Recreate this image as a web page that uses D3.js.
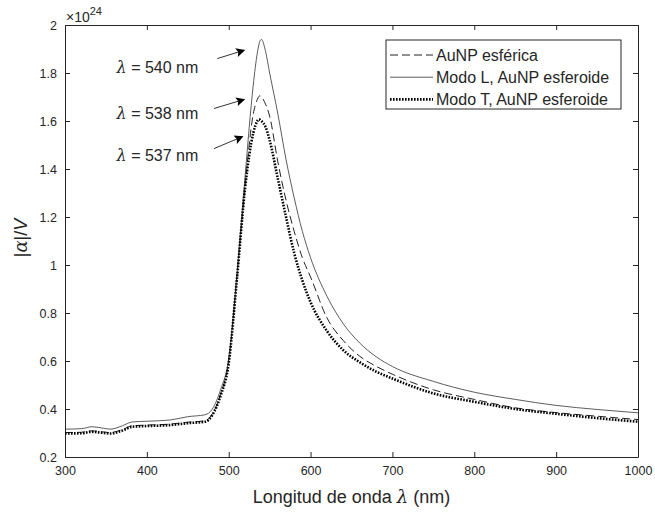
<!DOCTYPE html>
<html>
<head>
<meta charset="utf-8">
<title>Polarizabilidad AuNP</title>
<style>
body { margin: 0; background: #fff; }
text { font-family: "Liberation Sans", Arial, sans-serif; fill: #262626; }
</style>
<script src="https://d3js.org/d3.v7.min.js"></script>
</head>
<body>
<div id="chart"></div>
<script>
// wavelengths (nm) shared by the three curves
var lambda = [300, 320, 333, 345, 355, 370, 382, 400, 428, 450, 471, 480, 490, 500, 510, 520, 530, 535, 537, 538, 540, 545, 550, 560, 570, 580, 590, 600, 620, 640, 660, 680, 700, 750, 800, 850, 900, 950, 1000];

// |alpha|/V in units of 1e24
var esferica = [0.302, 0.303, 0.309, 0.305, 0.302, 0.314, 0.330, 0.333, 0.337, 0.345, 0.351, 0.38, 0.46, 0.60, 0.95, 1.33, 1.63, 1.69, 1.703, 1.705, 1.70, 1.67, 1.62, 1.43, 1.27, 1.14, 1.03, 0.95, 0.78, 0.685, 0.62, 0.578, 0.545, 0.48, 0.44, 0.405, 0.385, 0.37, 0.356];
var modoL = [0.316, 0.318, 0.326, 0.321, 0.316, 0.330, 0.346, 0.349, 0.354, 0.368, 0.376, 0.40, 0.48, 0.61, 0.96, 1.37, 1.75, 1.885, 1.92, 1.932, 1.94, 1.89, 1.80, 1.63, 1.44, 1.28, 1.14, 1.03, 0.87, 0.755, 0.675, 0.618, 0.577, 0.515, 0.47, 0.44, 0.415, 0.398, 0.384];
var modoT = [0.298, 0.299, 0.305, 0.301, 0.298, 0.310, 0.326, 0.329, 0.333, 0.341, 0.347, 0.375, 0.455, 0.59, 0.94, 1.32, 1.55, 1.60, 1.607, 1.606, 1.60, 1.575, 1.52, 1.36, 1.20, 1.05, 0.935, 0.845, 0.725, 0.645, 0.595, 0.556, 0.527, 0.465, 0.43, 0.40, 0.38, 0.362, 0.347];

var xTicks = [300, 400, 500, 600, 700, 800, 900, 1000];
var yTicks = [0.2, 0.4, 0.6, 0.8, 1, 1.2, 1.4, 1.6, 1.8, 2];

var seriesNames = ["AuNP esférica", "Modo L, AuNP esferoide", "Modo T, AuNP esferoide"];

// peak annotations in data units: text anchor, arrow start, arrow tip
var peakLabels = ["540 nm", "538 nm", "537 nm"];
var peakText = [[363, 1.80], [363, 1.61], [363, 1.435]];
var arrowFrom = [[486, 1.86], [482, 1.652], [482, 1.485]];
var arrowTo = [[519, 1.895], [519, 1.69], [517, 1.535]];

var margin = {top: 25, right: 17, bottom: 55, left: 65};
var width = 655 - margin.left - margin.right;
var height = 512 - margin.top - margin.bottom;

var svg = d3.select("#chart").append("svg")
    .attr("width", 655)
    .attr("height", 512);

var g = svg.append("g")
    .attr("transform", "translate(" + margin.left + "," + margin.top + ")");

var x = d3.scaleLinear().domain([300, 1000]).range([0, width]);
var y = d3.scaleLinear().domain([0.2, 2]).range([height, 0]);

// axes with inward ticks, MATLAB style box
var axisColor = "#262626";
g.append("g")
    .attr("transform", "translate(0," + height + ")")
    .call(d3.axisBottom(x).tickValues(xTicks).tickSizeInner(-5).tickSizeOuter(0).tickPadding(9).tickFormat(d3.format("d")))
    .call(function(a) { a.select(".domain").attr("stroke", axisColor); })
    .selectAll("text").attr("font-size", "12.5px").attr("fill", axisColor);
g.append("g")
    .call(d3.axisTop(x).tickValues(xTicks).tickSizeInner(-5).tickSizeOuter(0).tickFormat(""))
    .select(".domain").attr("stroke", axisColor);
g.append("g")
    .call(d3.axisLeft(y).tickValues(yTicks).tickSizeInner(-5).tickSizeOuter(0).tickPadding(8).tickFormat(d3.format("~g")))
    .call(function(a) { a.select(".domain").attr("stroke", axisColor); })
    .selectAll("text").attr("font-size", "12.5px").attr("fill", axisColor);
g.append("g")
    .attr("transform", "translate(" + width + ",0)")
    .call(d3.axisRight(y).tickValues(yTicks).tickSizeInner(-5).tickSizeOuter(0).tickFormat(""))
    .select(".domain").attr("stroke", axisColor);
g.selectAll(".tick line").attr("stroke", axisColor);

// curves
var line = d3.line()
    .x(function(d, i) { return x(lambda[i]); })
    .y(function(d) { return y(d); })
    .curve(d3.curveMonotoneX);

var styles = [
    {stroke: "#222", width: 1, dash: "8,4"},
    {stroke: "#333", width: 0.8, dash: null},
    {stroke: "#000", width: 2.6, dash: "1.6,1.4"}
];
var allSeries = [esferica, modoL, modoT];

allSeries.forEach(function(s, i) {
    g.append("path")
        .datum(s)
        .attr("fill", "none")
        .attr("stroke", styles[i].stroke)
        .attr("stroke-width", styles[i].width)
        .attr("stroke-dasharray", styles[i].dash)
        .attr("d", line);
});

// arrows + labels for the peaks
svg.append("defs").append("marker")
    .attr("id", "arrow")
    .attr("viewBox", "0 0 10 10")
    .attr("refX", 9).attr("refY", 5)
    .attr("markerWidth", 14).attr("markerHeight", 9)
    .attr("markerUnits", "userSpaceOnUse")
    .attr("orient", "auto")
    .append("path").attr("d", "M0,0 L10,5 L0,10 L2,5 z").attr("fill", "#000");

peakLabels.forEach(function(lab, i) {
    var t = g.append("text")
        .attr("x", x(peakText[i][0]))
        .attr("y", y(peakText[i][1]))
        .attr("font-size", "16px");
    t.append("tspan").attr("font-style", "italic").attr("font-family", "DejaVu Serif, serif").text("λ");
    t.append("tspan").text(" = " + lab);
    g.append("line")
        .attr("x1", x(arrowFrom[i][0]))
        .attr("y1", y(arrowFrom[i][1]))
        .attr("x2", x(arrowTo[i][0]))
        .attr("y2", y(arrowTo[i][1]))
        .attr("stroke", "#333")
        .attr("stroke-width", 1)
        .attr("marker-end", "url(#arrow)");
});

// legend
var legend = g.append("g").attr("transform", "translate(" + (386 - margin.left) + "," + (40 - margin.top) + ")");
legend.append("rect")
    .attr("width", 235).attr("height", 69)
    .attr("fill", "#fff").attr("stroke", axisColor).attr("stroke-width", 1);
seriesNames.forEach(function(name, i) {
    var ly = 15 + i * 22.2;
    legend.append("line")
        .attr("x1", 4).attr("x2", 47)
        .attr("y1", ly).attr("y2", ly)
        .attr("stroke", styles[i].stroke)
        .attr("stroke-width", styles[i].width)
        .attr("stroke-dasharray", styles[i].dash);
    legend.append("text")
        .attr("x", 50).attr("y", ly + 6)
        .attr("font-size", "16px")
        .attr("fill", "#000")
        .text(name);
});

// exponent marker
var ex = svg.append("text").attr("x", 66).attr("y", 22).attr("font-size", "14px");
ex.append("tspan").text("×10");
ex.append("tspan").attr("dy", -7).attr("font-size", "11px").text("24");

// axis labels
var xl = svg.append("text")
    .attr("text-anchor", "middle")
    .attr("x", margin.left + width / 2)
    .attr("y", 503)
    .attr("font-size", "18px");
xl.append("tspan").text("Longitud de onda ");
xl.append("tspan").attr("font-style", "italic").attr("font-family", "DejaVu Serif, serif").text("λ");
xl.append("tspan").text(" (nm)");

var yl = svg.append("text")
    .attr("text-anchor", "middle")
    .attr("transform", "translate(27,238) rotate(-90)")
    .attr("font-size", "18px");
yl.append("tspan").text("|");
yl.append("tspan").attr("font-style", "italic").attr("font-family", "DejaVu Serif, serif").text("α");
yl.append("tspan").text("|/");
yl.append("tspan").attr("font-style", "italic").text("V");
</script>
</body>
</html>
